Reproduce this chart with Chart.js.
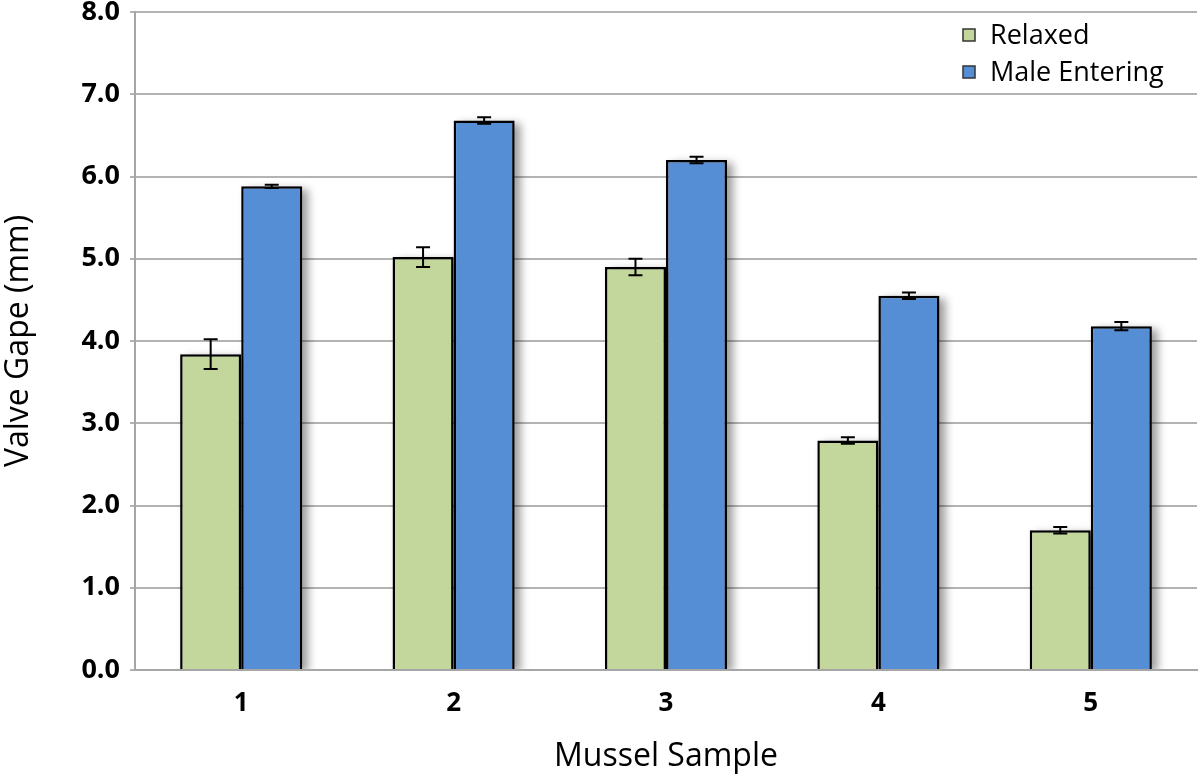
<!DOCTYPE html>
<html>
<head>
<meta charset="utf-8">
<script src="https://cdn.jsdelivr.net/npm/chart.js@4/dist/chart.umd.min.js"></script>
<style>
html,body{margin:0;padding:0;background:#fff;}
#wrap{width:1200px;height:776px;}
</style>
</head>
<body>
<div id="wrap"><canvas id="c" width="1200" height="776"></canvas></div>
<script>
const categories = ["1", "2", "3", "4", "5"];
const relaxed = [3.84, 5.02, 4.90, 2.79, 1.70];
const relaxedErr = [0.18, 0.12, 0.10, 0.04, 0.04];
const maleEntering = [5.88, 6.68, 6.20, 4.55, 4.18];
const maleEnteringErr = [0.02, 0.04, 0.04, 0.04, 0.05];
const seriesLabels = ["Relaxed", "Male Entering"];
const yTicks = [0, 1, 2, 3, 4, 5, 6, 7, 8];

const FONT = "'Open Sans', 'Noto Sans', sans-serif";
const errorsByDataset = [relaxedErr, maleEnteringErr];

const shadowPlugin = {
  id: 'barShadow',
  beforeDatasetsDraw(chart) {
    const ctx = chart.ctx;
    const area = chart.chartArea;
    ctx.save();
    ctx.beginPath();
    ctx.rect(area.left, area.top - 20, area.right - area.left + 10, area.bottom - area.top + 19);
    ctx.clip();
    ctx.filter = 'blur(4px)';
    ctx.fillStyle = 'rgba(0,0,0,0.38)';
    chart.data.datasets.forEach((ds, di) => {
      const meta = chart.getDatasetMeta(di);
      meta.data.forEach(bar => {
        const p = bar.getProps(['x', 'y', 'base', 'width'], true);
        const left = p.x - p.width / 2;
        ctx.fillRect(left + 6, p.y + 3, p.width, p.base - p.y);
      });
    });
    ctx.restore();
  }
};

const errorBarPlugin = {
  id: 'errorBars',
  afterDatasetsDraw(chart) {
    const ctx = chart.ctx;
    const y = chart.scales.y;
    ctx.save();
    ctx.strokeStyle = '#000';
    ctx.lineWidth = 2;
    chart.data.datasets.forEach((ds, di) => {
      const meta = chart.getDatasetMeta(di);
      const errs = errorsByDataset[di];
      meta.data.forEach((bar, i) => {
        const v = ds.data[i];
        const e = errs[i];
        const yTop = y.getPixelForValue(v + e);
        const yBot = y.getPixelForValue(v - e);
        const x = bar.x;
        const cap = 7;
        ctx.beginPath();
        ctx.moveTo(x, yTop); ctx.lineTo(x, yBot);
        ctx.moveTo(x - cap, yTop); ctx.lineTo(x + cap, yTop);
        ctx.moveTo(x - cap, yBot); ctx.lineTo(x + cap, yBot);
        ctx.stroke();
      });
    });
    ctx.restore();
  }
};

const legendPlugin = {
  id: 'customLegend',
  afterDraw(chart) {
    const ctx = chart.ctx;
    ctx.save();
    ctx.font = "27px " + FONT;
    ctx.textBaseline = 'middle';
    ctx.textAlign = 'left';
    const x0 = 963, ys = [35, 72];
    chart.data.datasets.forEach((ds, i) => {
      const yy = ys[i];
      ctx.fillStyle = ds.backgroundColor;
      ctx.fillRect(x0, yy - 6, 12, 12);
      ctx.strokeStyle = '#333';
      ctx.lineWidth = 1.5;
      ctx.strokeRect(x0, yy - 6, 12, 12);
      ctx.fillStyle = '#000';
      ctx.fillText(ds.label, 990, yy + 1);
    });
    ctx.restore();
  }
};

new Chart(document.getElementById('c'), {
  type: 'bar',
  data: {
    labels: categories,
    datasets: [
      { label: seriesLabels[0], data: relaxed, backgroundColor: '#c3d69b', borderColor: '#000', borderWidth: 2.5, barPercentage: 1.0, categoryPercentage: 0.575 },
      { label: seriesLabels[1], data: maleEntering, backgroundColor: '#558ed5', borderColor: '#000', borderWidth: 2.5, barPercentage: 1.0, categoryPercentage: 0.575 }
    ]
  },
  options: {
    responsive: false,
    animation: false,
    devicePixelRatio: 1,
    layout: { padding: { left: 0, right: 3, top: 12, bottom: 0 } },
    plugins: { legend: { display: false }, tooltip: { enabled: false } },
    scales: {
      x: {
        grid: { display: false, drawTicks: false },
        border: { display: true, color: '#a6a6a6', width: 2 },
        ticks: { color: '#000', font: { family: FONT, size: 26, weight: 'bold' }, padding: 18 },
        title: { display: true, text: 'Mussel Sample', color: '#000', font: { family: FONT, size: 32 }, padding: { top: 14, bottom: 0 } },
        afterFit(s) { s.height = 106; s.paddingLeft = 0; s.paddingRight = 0; }
      },
      y: {
        min: 0, max: 8,
        afterBuildTicks(s) { s.ticks = yTicks.map(v => ({ value: v })); },
        grid: { color: '#b3b3b3', lineWidth: 2, drawTicks: true, tickLength: 5 },
        border: { display: true, color: '#a6a6a6', width: 2 },
        ticks: { color: '#000', font: { family: FONT, size: 27, weight: 'bold' }, padding: 10, callback: v => Number(v).toFixed(1) },
        title: { display: true, text: 'Valve Gape (mm)', color: '#000', font: { family: FONT, size: 32 }, padding: { top: 0, bottom: 2 } },
        afterFit(s) { s.width = 135; s.paddingTop = 0; s.paddingBottom = 0; }
      }
    }
  },
  plugins: [shadowPlugin, errorBarPlugin, legendPlugin]
});
</script>
</body>
</html>
